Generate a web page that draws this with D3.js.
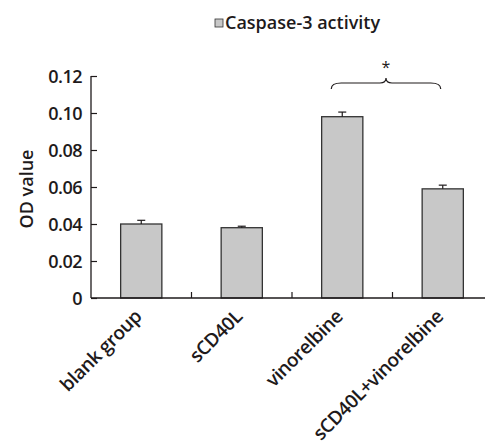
<!DOCTYPE html>
<html>
<head>
<meta charset="utf-8">
<script src="https://cdn.jsdelivr.net/npm/d3@7"></script>
<style>
  body { margin: 0; background: #fff; }
  svg { display: block; }
</style>
</head>
<body>
<div id="chart"></div>
<script>
const categories = ["blank group", "sCD40L", "vinorelbine", "sCD40L+vinorelbine"];
const values = [0.040, 0.038, 0.098, 0.059];
const errors = [0.002, 0.0008, 0.0025, 0.002];
const yTicks = [0, 0.02, 0.04, 0.06, 0.08, 0.10, 0.12];
const seriesName = "Caspase-3 activity";

const W = 485, H = 444;
const margin = { top: 76, right: -8, bottom: 146, left: 91 };
const width = W - margin.left - margin.right;
const height = H - margin.top - margin.bottom;
const font = "'Open Sans', 'Noto Sans', sans-serif";
const ink = "#1e1a1b";

const svg = d3.select("#chart").append("svg")
    .attr("width", W)
    .attr("height", H);

const g = svg.append("g")
    .attr("transform", `translate(${margin.left}, ${margin.top})`);

const x = d3.scaleBand()
    .domain(categories)
    .range([0, width])
    .paddingInner(0.59)
    .paddingOuter(0.295);

const y = d3.scaleLinear()
    .domain([0, 0.12])
    .range([height, 0]);

// bars
g.selectAll("rect.bar")
    .data(values)
    .enter()
    .append("rect")
    .attr("class", "bar")
    .attr("x", (d, i) => x(categories[i]))
    .attr("y", d => y(d))
    .attr("width", x.bandwidth())
    .attr("height", d => height - y(d))
    .attr("fill", "#c8c8c8")
    .attr("stroke", "#333")
    .attr("stroke-width", 1.3);

// error bars (upper only)
const errG = g.append("g").attr("stroke", ink).attr("stroke-width", 1.2);
values.forEach((v, i) => {
  const cx = x(categories[i]) + x.bandwidth() / 2;
  errG.append("line")
      .attr("x1", cx).attr("x2", cx)
      .attr("y1", y(v)).attr("y2", y(v + errors[i]));
  errG.append("line")
      .attr("x1", cx - 4).attr("x2", cx + 4)
      .attr("y1", y(v + errors[i])).attr("y2", y(v + errors[i]));
});

// y axis, ticks pointing inward
const yAxis = g.append("g")
    .call(d3.axisRight(y)
        .tickValues(yTicks)
        .tickSize(6)
        .tickFormat(d => d === 0 ? "0" : d3.format(".2f")(d)));
yAxis.select(".domain").attr("stroke", ink).attr("stroke-width", 1.3).attr("d", `M0,0V${height}`);
yAxis.selectAll(".tick line").attr("stroke", ink).attr("stroke-width", 1.2);
yAxis.selectAll(".tick text")
    .attr("x", -9)
    .attr("dy", "0.36em")
    .attr("text-anchor", "end")
    .style("font-family", font)
    .style("font-size", "18px")
    .style("font-weight", 600)
    .style("letter-spacing", "-0.5px")
    .style("fill", ink);

// x axis line with separators between categories
const xAxisG = g.append("g").attr("transform", `translate(0, ${height})`);
xAxisG.append("line")
    .attr("x1", 0).attr("x2", width)
    .attr("stroke", ink).attr("stroke-width", 1.3);
const step = x.step();
categories.slice(1).forEach((c, i) => {
  const sx = x(c) - (step - x.bandwidth()) / 2;
  xAxisG.append("line")
      .attr("x1", sx).attr("x2", sx)
      .attr("y1", 0).attr("y2", -6)
      .attr("stroke", ink).attr("stroke-width", 1.2);
});

// rotated category labels
xAxisG.selectAll("text.cat")
    .data(categories)
    .enter()
    .append("text")
    .attr("class", "cat")
    .attr("transform", d => `translate(${x(d) + x.bandwidth() / 2 - 3}, 15) rotate(-45)`)
    .attr("text-anchor", "end")
    .attr("dy", "0.35em")
    .style("font-family", font)
    .style("font-size", "19px")
    .style("font-weight", 600)
    .style("letter-spacing", "-0.4px")
    .style("fill", ink)
    .text(d => d);

// y axis label
svg.append("text")
    .attr("transform", `translate(33, 189) rotate(-90)`)
    .attr("text-anchor", "middle")
    .style("font-family", font)
    .style("font-size", "18px")
    .style("font-weight", 600)
    .style("fill", ink)
    .text("OD value");

// legend
const legend = svg.append("g").attr("transform", "translate(215, 18)");
legend.append("rect")
    .attr("width", 8).attr("height", 8)
    .attr("y", 1)
    .attr("fill", "#c8c8c8")
    .attr("stroke", "#333")
    .attr("stroke-width", 0.8);
legend.append("text")
    .attr("x", 10)
    .attr("y", 11)
    .style("font-family", font)
    .style("font-size", "18px")
    .style("font-weight", 600)
    .style("fill", ink)
    .text(seriesName);

// significance brace between vinorelbine and combination
const bx1 = x(categories[2]) + x.bandwidth() / 2 - 11;
const bx2 = x(categories[3]) + x.bandwidth() / 2 - 2;
const bm = (bx1 + bx2) / 2;
const by = y(0.12) + 13;
const bracePath = d3.path();
bracePath.moveTo(bx1, by);
bracePath.quadraticCurveTo(bx1, by - 6, bx1 + 10, by - 6);
bracePath.lineTo(bm - 6, by - 6);
bracePath.quadraticCurveTo(bm, by - 6, bm, by - 11);
bracePath.quadraticCurveTo(bm, by - 6, bm + 6, by - 6);
bracePath.lineTo(bx2 - 10, by - 6);
bracePath.quadraticCurveTo(bx2, by - 6, bx2, by);
g.append("path")
    .attr("d", bracePath.toString())
    .attr("fill", "none")
    .attr("stroke", ink)
    .attr("stroke-width", 1.2);
g.append("text")
    .attr("x", bm)
    .attr("y", by - 16)
    .attr("text-anchor", "middle")
    .style("font-family", font)
    .style("font-size", "16px")
    .style("fill", ink)
    .text("*");
</script>
</body>
</html>
